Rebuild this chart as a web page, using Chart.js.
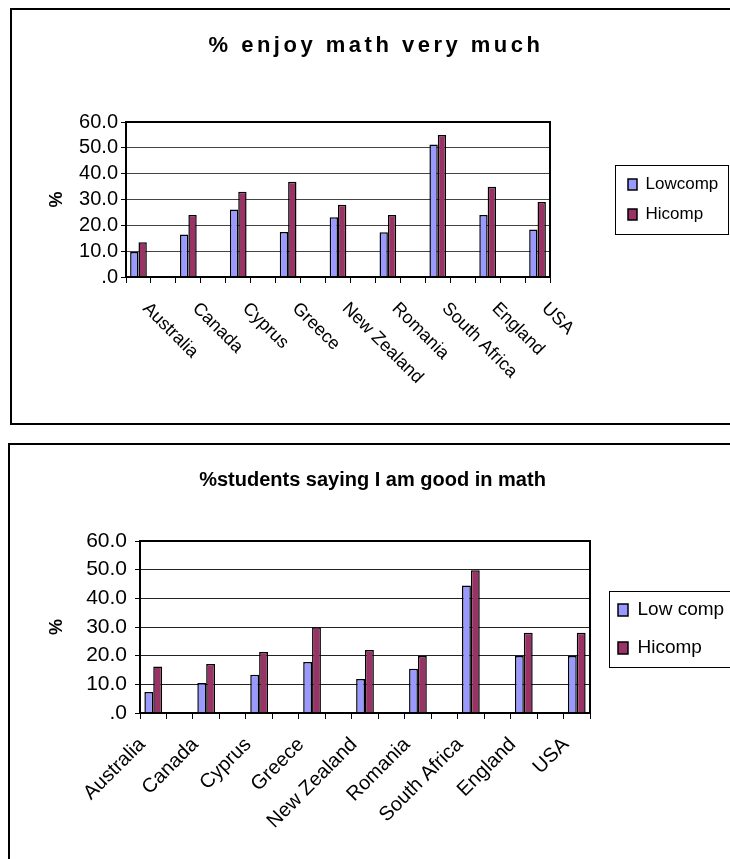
<!DOCTYPE html>
<html>
<head>
<meta charset="utf-8">
<title>Math attitudes by computer use</title>
<script src="https://cdn.jsdelivr.net/npm/chart.js@4.4.1/dist/chart.umd.min.js"></script>
<style>
  html, body { margin: 0; padding: 0; background: #fff; }
  body { width: 730px; height: 859px; overflow: hidden; position: relative; }
  .frame { position: absolute; border: 2px solid #000; background: #fff; }
  #box1 { left: 10px; top: 8px; width: 728px; height: 413px; }
  #box2 { left: 8px; top: 443px; width: 725px; height: 420px; }
  canvas { display: block; }
</style>
</head>
<body>
<div class="frame" id="box1"><canvas id="c1" width="728" height="413"></canvas></div>
<div class="frame" id="box2"><canvas id="c2" width="725" height="414"></canvas></div>
<script>
// ---- data ----
const countries = ['Australia', 'Canada', 'Cyprus', 'Greece', 'New Zealand', 'Romania', 'South Africa', 'England', 'USA'];

// "% enjoy math very much"
const enjoyLowcomp = [9.7, 16.5, 26.1, 17.4, 23.1, 17.3, 51.3, 24.0, 18.4];
const enjoyHicomp  = [13.5, 24.0, 33.0, 36.9, 28.0, 24.0, 55.0, 34.9, 29.0];

// "% students saying I am good in math"
const goodLowcomp = [7.3, 10.5, 13.3, 17.8, 11.9, 15.4, 44.5, 19.9, 19.9];
const goodHicomp  = [16.2, 17.1, 21.3, 29.9, 22.0, 19.9, 49.8, 28.0, 28.0];

const yTickLabels = ['.0', '10.0', '20.0', '30.0', '40.0', '50.0', '60.0'];
const yStep = 10;
const enjoySeries = ['Lowcomp', 'Hicomp'];
const goodSeries  = ['Low comp', 'Hicomp'];
const titles = ['% enjoy math very much', '%students saying I am good in math'];

// ---- helpers ----
// each country is followed by an empty slot on the category axis
function withGaps(arr, blank) {
  const out = [];
  arr.forEach((v, i) => { if (i) out.push(blank); out.push(v); });
  return out;
}

const FONT = "'Liberation Sans', Arial, sans-serif";
Chart.defaults.font.family = FONT;
Chart.defaults.color = '#000';
Chart.defaults.animation = false;

const LOW = '#9999FF';
const HIGH = '#993366';

// horizontal nudge of the slanted category labels, per canvas
const labelNudge = { c1: 7, c2: -11 };

// category axis with a small sideways nudge for its slanted labels
class NudgedCategoryScale extends Chart.CategoryScale {
  _computeLabelItems(area) {
    const items = super._computeLabelItems(area);
    const dx = labelNudge[this.chart.canvas.id] || 0;
    items.forEach(it => {
      const t = it.options.translation;
      it.options.translation = [t[0] + dx, t[1]];
    });
    return items;
  }
}
NudgedCategoryScale.id = 'nudgedCategory';
NudgedCategoryScale.defaults = {};
Chart.register(NudgedCategoryScale);

// same axis, but the slanted labels hang down to the right from each tick
class HangingCategoryScale extends NudgedCategoryScale {
  _getXAxisLabelAlignment() { return 'left'; }
}
HangingCategoryScale.id = 'hangingCategory';
HangingCategoryScale.defaults = {};
Chart.register(HangingCategoryScale);

// boxed legend at a fixed spot, full-width title, framed plot area
const framePlugin = {
  id: 'frames',
  afterLayout(chart, args, o) {
    const lg = chart.legend;
    const pad = chart.options.plugins.legend.labels.padding;
    lg.left = o.left + o.inset - pad;
    lg.right = o.right;
    lg.width = lg.right - lg.left;
    lg.top = o.firstY - pad;
    lg.bottom = o.bottom + 80;
    lg.height = lg.bottom - lg.top;

    const tb = chart.titleBlock;
    tb.left = 0;
    tb.right = chart.width;
    tb.width = chart.width;
    if (!tb._spacedDraw) {
      const drawTitle = tb.draw.bind(tb);
      tb.draw = function () {
        const ctx = this.ctx;
        ctx.save();
        ctx.letterSpacing = (o.titleSpacing || 0) + 'px';
        drawTitle();
        ctx.restore();
      };
      tb._spacedDraw = true;
    }
  },
  afterDraw(chart, args, o) {
    const ctx = chart.ctx;
    const a = chart.chartArea;
    ctx.save();
    ctx.strokeStyle = '#000';
    ctx.lineWidth = 1;
    ctx.strokeRect(o.left + 0.5, o.top + 0.5, o.right - o.left, o.bottom - o.top);
    ctx.lineWidth = 2;
    ctx.strokeRect(a.left, a.top, a.right - a.left, a.bottom - a.top);
    ctx.restore();
  }
};

function makeChart(canvasId, cfg) {
  const labels = withGaps(countries, '');
  return new Chart(document.getElementById(canvasId), {
    type: 'bar',
    data: {
      labels: labels,
      datasets: [
        { label: cfg.series[0], data: withGaps(cfg.low, null), backgroundColor: LOW, borderColor: '#000', borderWidth: 1.5 },
        { label: cfg.series[1], data: withGaps(cfg.high, null), backgroundColor: HIGH, borderColor: '#000', borderWidth: 1.5 }
      ]
    },
    options: {
      responsive: false,
      animation: false,
      layout: { padding: { left: 30, top: 0, right: cfg.padRight, bottom: 0 } },
      datasets: { bar: { categoryPercentage: 0.67, barPercentage: 1.0 } },
      scales: {
        x: {
          type: cfg.xType,
          offset: true,
          grid: { offset: true, drawOnChartArea: false, tickLength: 6, color: '#000', tickColor: '#000', lineWidth: 1 },
          border: { display: true, color: '#000', width: 2 },
          ticks: {
            autoSkip: false, minRotation: cfg.rot, maxRotation: cfg.rot,
            padding: cfg.xPad, color: '#000', font: { size: cfg.xFont }
          },
          afterFit: s => { s.height = cfg.xHeight; }
        },
        y: {
          min: 0, max: 60,
          ticks: {
            stepSize: yStep, maxTicksLimit: 20, autoSkip: false,
            padding: cfg.yPad, color: '#000', font: { size: cfg.yFont },
            callback: v => yTickLabels[Math.round(v / yStep)]
          },
          grid: { color: cfg.gridColor, tickColor: '#000', tickLength: 5, lineWidth: 1 },
          border: { display: true, color: '#000', width: 2 },
          title: { display: true, text: '%', color: '#000', font: { size: 18, weight: 'bold' }, padding: { top: cfg.yTitlePad, bottom: 0 } },
          afterFit: s => { s.width = cfg.yWidth; }
        }
      },
      plugins: {
        title: {
          display: true, text: cfg.title, color: '#000',
          font: { size: cfg.titleSize, weight: 'bold' },
          padding: { top: cfg.titleTop, bottom: cfg.titleBottom }
        },
        legend: {
          position: 'right', align: 'start', maxWidth: 40,
          labels: { boxWidth: cfg.boxW, boxHeight: cfg.boxH, padding: cfg.legPad, color: '#000', font: { size: cfg.legFont } }
        },
        tooltip: { enabled: false },
        frames: cfg.frames
      }
    },
    plugins: [framePlugin]
  });
}

// upper chart: plot area 114..538 x 112..267 inside its canvas
makeChart('c1', {
  title: titles[0], series: enjoySeries, low: enjoyLowcomp, high: enjoyHicomp,
  xType: 'hangingCategory', rot: -45, xPad: 15, xFont: 18, xHeight: 146,
  yFont: 20, yPad: 3, yWidth: 84, yTitlePad: 4, gridColor: '#444',
  titleSize: 22, titleTop: 23, titleBottom: 62.6,
  padRight: 728 - 538 - 40,
  boxW: 9, boxH: 11, legPad: 13, legFont: 17,
  frames: { left: 603, top: 155, right: 716, bottom: 224, inset: 13, firstY: 166, titleSpacing: 3.5 }
});

// lower chart: plot area 130..580 x 96..268 inside its canvas
makeChart('c2', {
  title: titles[1], series: goodSeries, low: goodLowcomp, high: goodHicomp,
  xType: 'nudgedCategory', rot: 45, xPad: 14, xFont: 20, xHeight: 146,
  yFont: 21, yPad: 8, yWidth: 100, yTitlePad: 6, gridColor: '#222',
  titleSize: 20, titleTop: 23, titleBottom: 49,
  padRight: 725 - 580 - 40,
  boxW: 10, boxH: 12, legPad: 19, legFont: 19,
  frames: { left: 599, top: 146, right: 740, bottom: 222, inset: 9, firstY: 155.5, titleSpacing: 0 }
});
</script>
</body>
</html>
